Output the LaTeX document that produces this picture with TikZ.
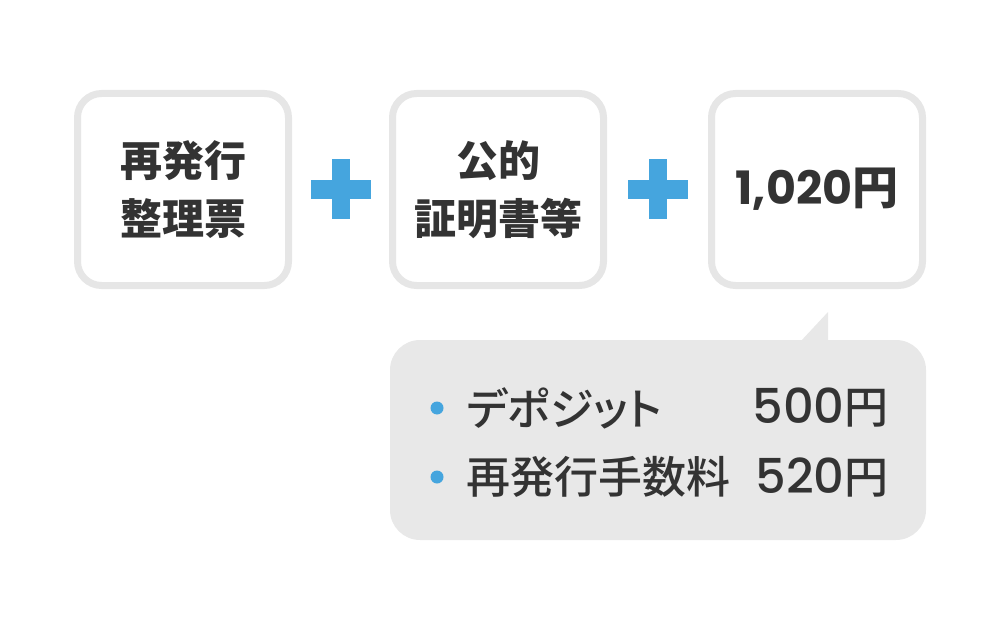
\documentclass[tikz,border=0pt]{standalone}
\usepackage{fontspec}
\usepackage{tikz}
\usetikzlibrary{positioning,calc}
\newfontfamily\cjk{Noto Sans CJK JP}
\newfontfamily\cjkmed{Noto Sans CJK JP Medium}[RawFeature=+palt]
\newfontfamily\numfont{Poppins}
\newfontfamily\nummed{Poppins Medium}
\definecolor{colorline}{RGB}{230,230,230}
\definecolor{colorfill}{RGB}{232,232,232}
\definecolor{colortext}{RGB}{51,51,51}
\definecolor{colorplus}{RGB}{69,165,222}

\begin{document}
\begin{tikzpicture}[
    x=0.5pt, y=-0.5pt,
    node distance = 48.5pt,
    card/.style={text=colortext,font={\cjk\bfseries\fontsize{21pt}{29pt}\selectfont},align=center,
        rectangle,draw=colorline,line width=3.5pt,rounded corners=12pt,fill=white,
        minimum width=105.5pt,minimum height=96pt,inner sep=0pt},
    plus/.style={fill=colorplus},
    balloon/.style={rectangle,fill=colorfill,rounded corners=15pt,minimum width=268pt,minimum height=100pt,outer sep=0pt},
    dot/.style={circle,fill=colorplus,minimum size=6.5pt,inner sep=0pt},
    item/.style={text=colortext,font={\cjkmed\fontsize{22pt}{26pt}\selectfont},inner sep=0pt},
]
    \useasboundingbox (0,0) rectangle (1000,620);

    % Cards
    \node[card] (reissue) at (183,189.5) {再発行\\整理票};
    \node[card, right=of reissue] (proof) {公的\\証明書等};
    \node[card, right=50.5pt of proof] (total) {{\numfont\bfseries\fontsize{23pt}{29pt}\selectfont 1,020}\fontsize{23pt}{29pt}\selectfont 円};

    % Plus signs
    \coordinate (plusA) at ($(reissue.east)!0.5!(proof.west)$);
    \coordinate (plusB) at ($(proof.east)!0.5!(total.west)$);
    \foreach \p in {plusA,plusB} {
        \fill[plus] ([xshift=-15pt,yshift=-4.75pt]\p) rectangle ([xshift=15pt,yshift=4.75pt]\p);
        \fill[plus] ([xshift=-4.5pt,yshift=-15pt]\p) rectangle ([xshift=4.5pt,yshift=15pt]\p);
    }

    % Breakdown
    \node[balloon, anchor=north east] (breakdown) at ([yshift=-25.5pt]total.south east) {};
    \fill[colorfill] ([xshift=-63pt,yshift=-1pt]breakdown.north east) -- ([xshift=-49pt,yshift=14pt]breakdown.north east)
        -- ([xshift=-49pt,yshift=-1pt]breakdown.north east) -- cycle;

    \node[dot] (depositDot) at (437,408) {};
    \node[item, anchor=west] (depositLabel) at (466,408) {デポジット};
    \node[item, anchor=east] (depositAmount) at (889,408) {{\nummed\fontsize{24pt}{26pt}\selectfont 500}円};

    \node[dot] (feeDot) at (437,477) {};
    \node[item, anchor=west] (feeLabel) at (466,477) {再発行手数料};
    \node[item, anchor=east] (feeAmount) at (889,477) {{\nummed\fontsize{24pt}{26pt}\selectfont 520}円};

\end{tikzpicture}
\end{document}
